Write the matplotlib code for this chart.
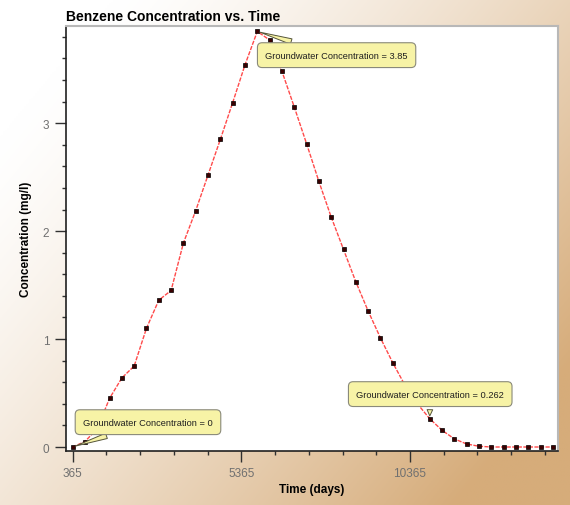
import numpy as np
import matplotlib
matplotlib.use("Agg")
import matplotlib.pyplot as plt
from matplotlib.ticker import MultipleLocator, FixedLocator

# yearly samples, days
years = list(range(1, 41))
time_days = [365 * k for k in years]
conc = [0.0, 0.05, 0.17, 0.45, 0.64, 0.75, 1.10, 1.36, 1.45, 1.89,
        2.19, 2.52, 2.85, 3.19, 3.54, 3.85, 3.77, 3.48, 3.15, 2.81,
        2.46, 2.13, 1.83, 1.53, 1.26, 1.01, 0.78, 0.57, 0.40, 0.262,
        0.155, 0.075, 0.028, 0.007, 0.0, 0.0, 0.0, 0.0, 0.0, 0.0]

x_major = [365, 5365, 10365]
y_major = [0, 1, 2, 3]

# (time, conc, label text, text position in data coords)
notes = [
    (365, 0.0, "Groundwater Concentration = 0", (2600, 0.23)),
    (5840, 3.85, "Groundwater Concentration = 3.85", (8190, 3.63)),
    (10950, 0.262, "Groundwater Concentration = 0.262", (10965, 0.49)),
]

plt.rcParams['font.family'] = ['Liberation Sans', 'DejaVu Sans']

fig = plt.figure(figsize=(5.7, 5.06), dpi=100)

# background gradient white -> tan
bg = fig.add_axes([0, 0, 1, 1], zorder=-10)
gx, gy = np.meshgrid(np.linspace(0, 1, 300), np.linspace(0, 1, 300))
t = np.clip(0.75 * gx + 0.55 * gy - 0.15, 0, 1) ** 1.3
c0 = np.array([255, 255, 255]) / 255.0
c1 = np.array([214, 172, 122]) / 255.0
img = c0[None, None, :] * (1 - t[..., None]) + c1[None, None, :] * t[..., None]
bg.imshow(img, aspect='auto', extent=[0, 1, 0, 1], origin='upper')
bg.axis('off')

ax = fig.add_axes([66 / 570, 1 - 452 / 506, (558 - 66) / 570, (452 - 27) / 506])
ax.set_facecolor('white')

ax.plot(time_days, conc, color='#ff4a4a', lw=1.0, linestyle=(0, (3, 1)), zorder=2)
ax.plot(time_days, conc, linestyle='none', marker='s', ms=3.2,
        mfc='#3a0000', mec='black', mew=0.5, zorder=3)

ax.set_xlim(170, 14752)
ax.set_ylim(-0.037, 3.9)

ax.xaxis.set_major_locator(FixedLocator(x_major))
ax.xaxis.set_minor_locator(MultipleLocator(1000, offset=365))
ax.yaxis.set_major_locator(FixedLocator(y_major))
ax.yaxis.set_minor_locator(MultipleLocator(0.2))

ax.tick_params(which='major', length=8, width=1, color='#303030',
               labelsize=8.5, labelcolor='#707070')
ax.tick_params(which='minor', length=3, width=1, color='#303030')
ax.tick_params(axis='y', which='major', pad=4)

for s in ['left', 'bottom']:
    ax.spines[s].set_color('#202020')
    ax.spines[s].set_linewidth(1.2)
for s in ['top', 'right']:
    ax.spines[s].set_color('#b8b8b8')
    ax.spines[s].set_linewidth(1.5)

ax.set_xlabel("Time (days)", fontsize=8.5, fontweight='bold', labelpad=3)
ax.set_ylabel("Concentration (mg/l)", fontsize=8.5, fontweight='bold', labelpad=8)
ax.set_title("Benzene Concentration vs. Time", fontsize=10, fontweight='bold',
             loc='left', pad=4)

for tx, cy, label, pos in notes:
    ax.annotate(label, xy=(tx, cy), xytext=pos, fontsize=6.7, color='#202020',
                ha='center', va='center', zorder=5,
                bbox=dict(boxstyle='round,pad=0.85,rounding_size=0.5',
                          fc='#f7f3a6', ec='#8a8a7a', lw=0.8),
                arrowprops=dict(arrowstyle='wedge,tail_width=0.6,shrink_factor=0.5',
                                fc='#f7f3a6', ec='#55553a', lw=0.7))

fig.savefig("out.png", dpi=100)
